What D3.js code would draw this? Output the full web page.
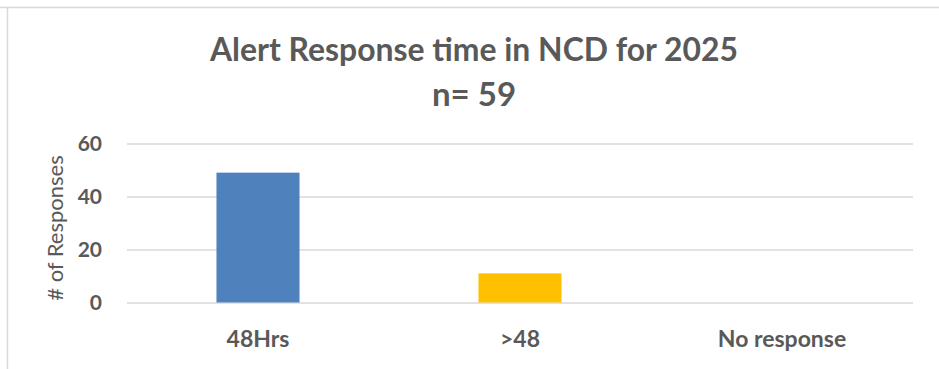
<!DOCTYPE html>
<html>
<head>
<meta charset="utf-8">
<script src="https://cdn.jsdelivr.net/npm/d3@7"></script>
<style>
  html, body { margin: 0; padding: 0; background: #ffffff; }
  svg { display: block; }
  text { font-family: Lato, "Open Sans", "Liberation Sans", sans-serif; fill: #595959; }
</style>
</head>
<body>
<svg id="chart" width="939" height="369"></svg>
<script>
// Alert response time, NCD 2025
const categories = ["48Hrs", ">48", "No response"];
const responses = [49, 11, 0];
const barColors = ["#4F81BD", "#FFC000", "#A5A5A5"];
const yTicks = [0, 20, 40, 60];
const titleLines = ["Alert Response time in NCD for 2025", "n= 59"];
const yAxisTitle = "# of Responses";

const svg = d3.select("#chart");
const W = 939, H = 369;
const plot = { left: 127, right: 913, top: 143.5, bottom: 302.5 };

// chart frame (top and left edges visible)
svg.append("line").attr("x1", 0).attr("x2", W).attr("y1", 7.5).attr("y2", 7.5)
  .attr("stroke", "#d9d9d9").attr("stroke-width", 1.5);
svg.append("line").attr("x1", 7.5).attr("x2", 7.5).attr("y1", 7.5).attr("y2", H)
  .attr("stroke", "#d9d9d9").attr("stroke-width", 1.5);

const x = d3.scaleBand()
  .domain(categories)
  .range([plot.left, plot.right])
  .paddingInner(0.683)
  .paddingOuter(0.3415);

const y = d3.scaleLinear()
  .domain([0, 60])
  .range([plot.bottom, plot.top]);

// gridlines + y tick labels
const yAxis = svg.append("g")
  .attr("transform", `translate(${plot.left},0)`)
  .call(d3.axisLeft(y).tickValues(yTicks).tickSize(-(plot.right - plot.left)).tickPadding(25));
yAxis.select(".domain").remove();
yAxis.selectAll(".tick line").attr("stroke", "#d9d9d9").attr("stroke-width", 1.5);
yAxis.selectAll(".tick text")
  .style("font-family", "Lato, 'Open Sans', sans-serif")
  .style("font-weight", "bold")
  .style("font-size", "21px")
  .attr("fill", "#595959");

// bars
svg.append("g").selectAll("rect")
  .data(categories.map((c, i) => ({ c, v: responses[i], col: barColors[i] })))
  .join("rect")
  .attr("x", d => x(d.c))
  .attr("width", x.bandwidth())
  .attr("y", d => y(d.v))
  .attr("height", d => y(0) - y(d.v))
  .attr("fill", d => d.col);

// category labels
const xAxis = svg.append("g")
  .attr("transform", `translate(0,${plot.bottom})`)
  .call(d3.axisBottom(x).tickSize(0).tickPadding(0));
xAxis.select(".domain").remove();
xAxis.selectAll(".tick text")
  .attr("y", 44.5)
  .attr("dy", 0)
  .style("font-family", "Lato, 'Open Sans', sans-serif")
  .style("font-weight", "bold")
  .style("font-size", "23px")
  .attr("fill", "#595959");

// y axis title
svg.append("text")
  .attr("transform", `translate(63,${(plot.top + plot.bottom) / 2 + 5}) rotate(-90)`)
  .attr("text-anchor", "middle")
  .style("font-size", "22px")
  .text(yAxisTitle);

// title
svg.append("text")
  .attr("x", 474).attr("y", 60.5)
  .attr("text-anchor", "middle")
  .attr("textLength", 528)
  .attr("lengthAdjust", "spacingAndGlyphs")
  .style("font-weight", "bold")
  .style("font-size", "33px")
  .text(titleLines[0]);
svg.append("text")
  .attr("x", 474).attr("y", 106)
  .attr("text-anchor", "middle")
  .style("font-weight", "bold")
  .style("font-size", "33px")
  .text(titleLines[1]);
</script>
</body>
</html>
